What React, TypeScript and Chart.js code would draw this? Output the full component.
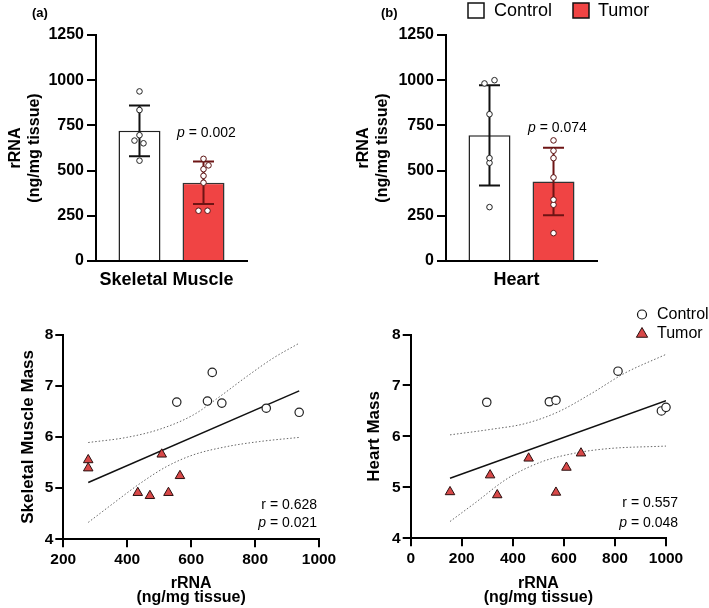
import React, { useEffect, useRef } from 'react';
import { Chart, registerables } from 'chart.js';

Chart.register(...registerables);

const FONT = "'Liberation Sans', Arial, Helvetica, sans-serif";
Chart.defaults.font.family = FONT;
Chart.defaults.color = '#000';

// ---------------- Data ----------------
const groups = ['Control', 'Tumor'];
const muscleCategory = ['Skeletal Muscle'];
const heartCategory = ['Heart'];
const barTicks = [0, 250, 500, 750, 1000, 1250];

const muscleMeans = [720, 433];
const muscleSD = [140, 118];
const heartMeans = [695, 440];
const heartSD = [277, 187];

const muscleControlRNA = [555, 651, 666, 696, 835, 938];
const muscleControlMass = [6.68, 6.7, 7.26, 6.66, 6.56, 6.48];
const muscleTumorRNA = [278, 278, 433, 471, 508, 529, 565];
const muscleTumorMass = [5.55, 5.39, 4.91, 4.85, 5.66, 4.91, 5.24];

const heartControlRNA = [298, 543, 569, 812, 982, 1000];
const heartControlMass = [6.67, 6.68, 6.71, 7.28, 6.5, 6.57];
const heartTumorRNA = [154, 311, 339, 462, 569, 610, 667];
const heartTumorMass = [4.91, 5.24, 4.85, 5.57, 4.9, 5.39, 5.67];

const muscleFitX = [278, 938];
const muscleFitY = [5.11, 6.9];
const muscleUpperX = [278, 398, 502, 607, 690, 774, 857, 938];
const muscleUpperY = [5.89, 5.99, 6.15, 6.43, 6.79, 7.18, 7.54, 7.83];
const muscleLowerX = [278, 356, 440, 523, 607, 711, 815, 938];
const muscleLowerY = [4.33, 4.7, 5.09, 5.42, 5.65, 5.81, 5.91, 5.99];

const heartFitX = [154, 1000];
const heartFitY = [5.18, 6.7];
const heartUpperX = [154, 316, 447, 577, 707, 838, 1000];
const heartUpperY = [6.03, 6.14, 6.25, 6.48, 6.84, 7.24, 7.61];
const heartLowerX = [154, 251, 381, 512, 642, 773, 1000];
const heartLowerY = [4.33, 4.69, 5.18, 5.5, 5.67, 5.76, 5.81];

const massTicks = [4, 5, 6, 7, 8];
const muscleRnaTicks = [200, 400, 600, 800, 1000];
const heartRnaTicks = [0, 200, 400, 600, 800, 1000];

const muscleBarP = '0.002';
const heartBarP = '0.074';
const muscleR = '0.628';
const muscleCorrP = '0.021';
const heartR = '0.557';
const heartCorrP = '0.048';

// ---------------- Styles (not data) ----------------
const RED = '#F04444';
const TRI_RED = '#D84848';
const TUMOR_ERR = '#6e1414';
// horizontal jitter of dots in the bar plots (pixels)
const muscleControlJitter = [0, 4, -5, 0, 0, 0];
const muscleTumorJitter = [-5, 4, 0, 0, 0, 5, 0];
const heartControlJitter = [0, 0, 0, 0, -5, 5];
const heartTumorJitter = [0, 0, 0, 0, 0, 0, 0];

const plainTick = (v: any) => String(v);

type Part = { t: string; italic?: boolean };

function drawParts(
  ctx: CanvasRenderingContext2D,
  parts: Part[],
  x: number,
  y: number,
  size: number,
  align: 'left' | 'right' | 'center',
  bold = false
) {
  const fonts = parts.map(
    (p) => `${p.italic ? 'italic ' : ''}${bold ? 'bold ' : ''}${size}px ${FONT}`
  );
  const widths = parts.map((p, i) => {
    ctx.font = fonts[i];
    return ctx.measureText(p.t).width;
  });
  const total = widths.reduce((a, b) => a + b, 0);
  let cx = align === 'right' ? x - total : align === 'center' ? x - total / 2 : x;
  ctx.textBaseline = 'middle';
  ctx.textAlign = 'left';
  ctx.fillStyle = '#000';
  parts.forEach((p, i) => {
    ctx.font = fonts[i];
    ctx.fillText(p.t, cx, y);
    cx += widths[i];
  });
}

function dot(ctx: CanvasRenderingContext2D, x: number, y: number, r: number, stroke: string) {
  ctx.beginPath();
  ctx.arc(x, y, r, 0, Math.PI * 2);
  ctx.fillStyle = '#fff';
  ctx.fill();
  ctx.lineWidth = 1;
  ctx.strokeStyle = stroke;
  ctx.stroke();
}

interface BarSpec {
  category: string[];
  means: number[];
  sd: number[];
  values: number[][];
  jitter: number[][];
  yAxisWidth: number;
  titlePad: number;
  rightPad: number;
  labelOffset: number;
  pValue: string;
  pX: number;
  pY: number;
  panel: string;
  panelX: number;
  legend: boolean;
}

function barConfig(s: BarSpec): any {
  const errColors = ['#111', TUMOR_ERR];
  const dotColors = ['#222', '#5a1010'];
  const overlay = {
    id: 'overlay',
    afterDatasetsDraw(chart: any) {
      const ctx: CanvasRenderingContext2D = chart.ctx;
      const ys = chart.scales.y;
      ctx.save();
      for (let i = 0; i < 2; i++) {
        const bar = chart.getDatasetMeta(i).data[0];
        const x = bar.x;
        const yTop = ys.getPixelForValue(s.means[i] + s.sd[i]);
        const yBot = ys.getPixelForValue(s.means[i] - s.sd[i]);
        ctx.strokeStyle = errColors[i];
        ctx.lineWidth = 2;
        ctx.beginPath();
        ctx.moveTo(x, yTop);
        ctx.lineTo(x, yBot);
        ctx.moveTo(x - 10.5, yTop);
        ctx.lineTo(x + 10.5, yTop);
        ctx.moveTo(x - 10.5, yBot);
        ctx.lineTo(x + 10.5, yBot);
        ctx.stroke();
        s.values[i].forEach((v, k) => {
          dot(ctx, x + s.jitter[i][k], ys.getPixelForValue(v), 2.8, dotColors[i]);
        });
      }
      drawParts(ctx, [{ t: 'p', italic: true }, { t: ' = ' + s.pValue }], s.pX, s.pY, 14, 'left');
      drawParts(ctx, [{ t: s.panel }], s.panelX, 13, 13, 'left', true);
      if (s.legend) {
        ctx.lineWidth = 1.5;
        ctx.strokeStyle = '#111';
        ctx.fillStyle = '#fff';
        ctx.fillRect(138, 3, 16, 15);
        ctx.strokeRect(138, 3, 16, 15);
        drawParts(ctx, [{ t: groups[0] }], 164, 11, 18, 'left');
        ctx.fillStyle = RED;
        ctx.fillRect(243, 3, 16, 15);
        ctx.strokeStyle = '#111';
        ctx.strokeRect(243, 3, 16, 15);
        drawParts(ctx, [{ t: groups[1] }], 268, 11, 18, 'left');
      }
      ctx.restore();
    },
  };
  return {
    type: 'bar',
    data: {
      labels: s.category,
      datasets: [
        {
          label: groups[0],
          data: [s.means[0]],
          backgroundColor: '#fff',
          borderColor: '#222',
          borderWidth: 1.5,
          categoryPercentage: 0.848,
          barPercentage: 0.656,
        },
        {
          label: groups[1],
          data: [s.means[1]],
          backgroundColor: RED,
          borderColor: '#333',
          borderWidth: 1.5,
          categoryPercentage: 0.848,
          barPercentage: 0.656,
        },
      ],
    },
    options: {
      responsive: false,
      animation: false,
      events: [],
      layout: { padding: { top: 35, left: 0, right: s.rightPad, bottom: 0 } },
      plugins: { legend: { display: false }, tooltip: { enabled: false } },
      scales: {
        x: {
          type: 'category',
          offset: true,
          grid: { display: false, drawTicks: false },
          border: { display: true, color: '#000', width: 2 },
          ticks: {
            color: '#000',
            font: { size: 18, weight: 'bold' },
            padding: 8,
            labelOffset: s.labelOffset,
          },
          afterFit: (sc: any) => {
            sc.height = 39;
          },
        },
        y: {
          min: barTicks[0],
          max: barTicks[barTicks.length - 1],
          ticks: {
            stepSize: barTicks[1] - barTicks[0],
            color: '#000',
            font: { size: 16, weight: 'bold' },
            padding: 3,
            callback: plainTick,
          },
          grid: { drawOnChartArea: false, color: '#000', lineWidth: 2, tickLength: 9 },
          border: { display: true, color: '#000', width: 2 },
          title: {
            display: true,
            text: ['rRNA', '(ng/mg tissue)'],
            color: '#000',
            font: { size: 16, weight: 'bold', lineHeight: 1.15 },
            padding: { top: s.titlePad, bottom: 0 },
          },
          afterFit: (sc: any) => {
            sc.width = s.yAxisWidth;
          },
        },
      },
    },
    plugins: [overlay],
  };
}

interface ScatterSpec {
  controlX: number[];
  controlY: number[];
  tumorX: number[];
  tumorY: number[];
  fitX: number[];
  fitY: number[];
  upX: number[];
  upY: number[];
  loX: number[];
  loY: number[];
  xTicks: number[];
  yTitle: string;
  yAxisWidth: number;
  yTitlePad: number;
  rightPad: number;
  xAxisHeight: number;
  r: string;
  p: string;
  statX: number;
  statY1: number;
  statY2: number;
  legend: boolean;
}

const pts = (xs: number[], ys: number[]) => xs.map((x, i) => ({ x, y: ys[i] }));

function scatterConfig(s: ScatterSpec): any {
  const overlay = {
    id: 'overlay2',
    afterDatasetsDraw(chart: any) {
      const ctx: CanvasRenderingContext2D = chart.ctx;
      ctx.save();
      drawParts(ctx, [{ t: 'r = ' + s.r }], s.statX, s.statY1, 14, 'right');
      drawParts(ctx, [{ t: 'p', italic: true }, { t: ' = ' + s.p }], s.statX, s.statY2, 14, 'right');
      if (s.legend) {
        ctx.beginPath();
        ctx.arc(287, 14.5, 4.5, 0, Math.PI * 2);
        ctx.fillStyle = '#fff';
        ctx.fill();
        ctx.lineWidth = 1.2;
        ctx.strokeStyle = '#111';
        ctx.stroke();
        drawParts(ctx, [{ t: groups[0] }], 302, 14.5, 16, 'left');
        const r = 6.5;
        const cx = 287;
        const cy = 34;
        ctx.beginPath();
        ctx.moveTo(cx, cy - r);
        ctx.lineTo(cx + r * Math.sin((2 * Math.PI) / 3), cy - r * Math.cos((2 * Math.PI) / 3));
        ctx.lineTo(cx + r * Math.sin((4 * Math.PI) / 3), cy - r * Math.cos((4 * Math.PI) / 3));
        ctx.closePath();
        ctx.fillStyle = TRI_RED;
        ctx.fill();
        ctx.lineWidth = 1;
        ctx.strokeStyle = '#2a1010';
        ctx.stroke();
        drawParts(ctx, [{ t: groups[1] }], 302, 33.5, 16, 'left');
      }
      ctx.restore();
    },
  };
  return {
    type: 'scatter',
    data: {
      datasets: [
        {
          label: groups[0],
          data: pts(s.controlX, s.controlY),
          pointStyle: 'circle',
          pointRadius: 4.2,
          backgroundColor: '#fff',
          borderColor: '#222',
          borderWidth: 1.2,
          clip: false,
          order: 0,
        },
        {
          label: groups[1],
          data: pts(s.tumorX, s.tumorY),
          pointStyle: 'triangle',
          pointRadius: 5.5,
          backgroundColor: TRI_RED,
          borderColor: '#2a1010',
          borderWidth: 1,
          clip: false,
          order: 0,
        },
        {
          label: 'fit',
          data: pts(s.fitX, s.fitY),
          showLine: true,
          pointRadius: 0,
          borderColor: '#111',
          borderWidth: 1.5,
          order: 1,
        },
        {
          label: 'upper',
          data: pts(s.upX, s.upY),
          showLine: true,
          pointRadius: 0,
          borderColor: '#666',
          borderWidth: 1,
          borderDash: [1.5, 2],
          cubicInterpolationMode: 'monotone',
          order: 1,
        },
        {
          label: 'lower',
          data: pts(s.loX, s.loY),
          showLine: true,
          pointRadius: 0,
          borderColor: '#666',
          borderWidth: 1,
          borderDash: [1.5, 2],
          cubicInterpolationMode: 'monotone',
          order: 1,
        },
      ],
    },
    options: {
      responsive: false,
      animation: false,
      events: [],
      layout: { padding: { top: 34.5, left: 0, right: s.rightPad, bottom: 0 } },
      plugins: { legend: { display: false }, tooltip: { enabled: false } },
      scales: {
        x: {
          type: 'linear',
          min: s.xTicks[0],
          max: s.xTicks[s.xTicks.length - 1],
          ticks: {
            stepSize: s.xTicks[1] - s.xTicks[0],
            color: '#000',
            font: { size: 15.5, weight: 'bold' },
            padding: 3,
            callback: plainTick,
          },
          grid: { drawOnChartArea: false, color: '#000', lineWidth: 2, tickLength: 8 },
          border: { display: true, color: '#000', width: 2 },
          title: {
            display: true,
            text: ['rRNA', '(ng/mg tissue)'],
            color: '#000',
            font: { size: 16, weight: 'bold', lineHeight: 0.875 },
            padding: { top: 0, bottom: 3 },
          },
          afterFit: (sc: any) => {
            sc.height = s.xAxisHeight;
          },
        },
        y: {
          type: 'linear',
          min: massTicks[0],
          max: massTicks[massTicks.length - 1],
          ticks: {
            stepSize: massTicks[1] - massTicks[0],
            color: '#000',
            font: { size: 15.5, weight: 'bold' },
            padding: 2,
            callback: plainTick,
          },
          grid: { drawOnChartArea: false, color: '#000', lineWidth: 2, tickLength: 8 },
          border: { display: true, color: '#000', width: 2 },
          title: {
            display: true,
            text: s.yTitle,
            color: '#000',
            font: { size: 17, weight: 'bold', lineHeight: 1.2 },
            padding: { top: s.yTitlePad, bottom: 0 },
          },
          afterFit: (sc: any) => {
            sc.width = s.yAxisWidth;
          },
        },
      },
    },
    plugins: [overlay],
  };
}

function ChartBox(props: { left: number; top: number; width: number; height: number; make: () => any }) {
  const ref = useRef<HTMLCanvasElement>(null);
  useEffect(() => {
    const chart = new Chart(ref.current as HTMLCanvasElement, props.make());
    return () => chart.destroy();
  }, []);
  return (
    <div style={{ position: 'absolute', left: props.left, top: props.top, width: props.width, height: props.height }}>
      <canvas
        ref={ref}
        width={props.width}
        height={props.height}
        style={{ width: props.width, height: props.height, display: 'block' }}
      />
    </div>
  );
}

export default function App() {
  return (
    <div style={{ position: 'fixed', left: 0, top: 0, width: 709, height: 608, background: '#fff', overflow: 'hidden' }}>
      <ChartBox
        left={0}
        top={0}
        width={330}
        height={300}
        make={() =>
          barConfig({
            category: muscleCategory,
            means: muscleMeans,
            sd: muscleSD,
            values: [muscleControlRNA, muscleTumorRNA],
            jitter: [muscleControlJitter, muscleTumorJitter],
            yAxisWidth: 96,
            titlePad: 6.8,
            rightPad: 83,
            labelOffset: -5,
            pValue: muscleBarP,
            pX: 177,
            pY: 133,
            panel: '(a)',
            panelX: 32,
            legend: false,
          })
        }
      />
      <ChartBox
        left={330}
        top={0}
        width={379}
        height={300}
        make={() =>
          barConfig({
            category: heartCategory,
            means: heartMeans,
            sd: heartSD,
            values: [heartControlRNA, heartTumorRNA],
            jitter: [heartControlJitter, heartTumorJitter],
            yAxisWidth: 116,
            titlePad: 24.8,
            rightPad: 112,
            labelOffset: -5,
            pValue: heartBarP,
            pX: 198,
            pY: 128,
            panel: '(b)',
            panelX: 51,
            legend: true,
          })
        }
      />
      <ChartBox
        left={0}
        top={300}
        width={355}
        height={308}
        make={() =>
          scatterConfig({
            controlX: muscleControlRNA,
            controlY: muscleControlMass,
            tumorX: muscleTumorRNA,
            tumorY: muscleTumorMass,
            fitX: muscleFitX,
            fitY: muscleFitY,
            upX: muscleUpperX,
            upY: muscleUpperY,
            loX: muscleLowerX,
            loY: muscleLowerY,
            xTicks: muscleRnaTicks,
            yTitle: 'Skeletal Muscle Mass',
            yAxisWidth: 63.3,
            yTitlePad: 17.8,
            rightPad: 36,
            xAxisHeight: 68.7,
            r: muscleR,
            p: muscleCorrP,
            statX: 317,
            statY1: 205,
            statY2: 223.5,
            legend: false,
          })
        }
      />
      <ChartBox
        left={355}
        top={300}
        width={354}
        height={308}
        make={() =>
          scatterConfig({
            controlX: heartControlRNA,
            controlY: heartControlMass,
            tumorX: heartTumorRNA,
            tumorY: heartTumorMass,
            fitX: heartFitX,
            fitY: heartFitY,
            upX: heartUpperX,
            upY: heartUpperY,
            loX: heartLowerX,
            loY: heartLowerY,
            xTicks: heartRnaTicks,
            yTitle: 'Heart Mass',
            yAxisWidth: 55.7,
            yTitlePad: 9.3,
            rightPad: 43,
            xAxisHeight: 69.7,
            r: heartR,
            p: heartCorrP,
            statX: 323,
            statY1: 203,
            statY2: 223.5,
            legend: true,
          })
        }
      />
    </div>
  );
}
